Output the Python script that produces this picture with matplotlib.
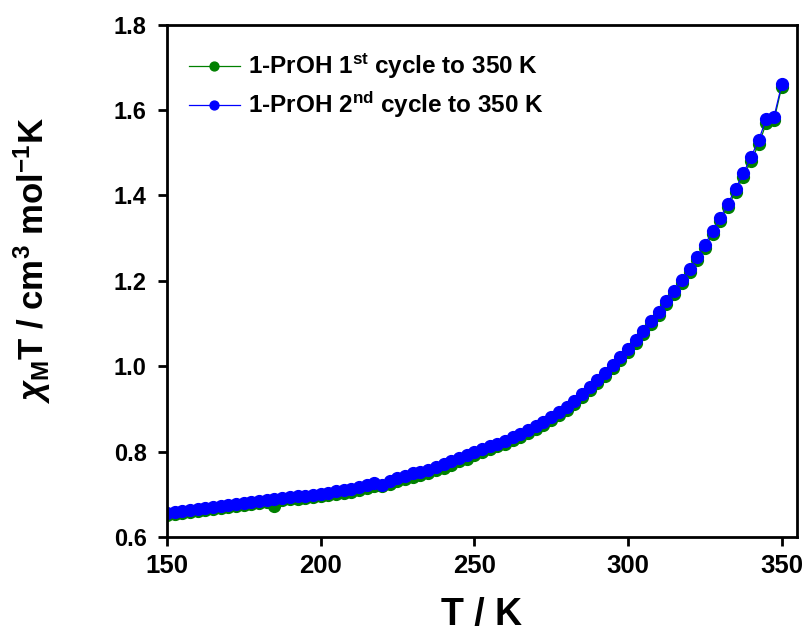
import numpy as np
import matplotlib
matplotlib.use('Agg')
import matplotlib.pyplot as plt

plt.rcParams['font.family'] = ['Liberation Sans', 'DejaVu Sans']
plt.rcParams['font.weight'] = 'bold'
plt.rcParams['mathtext.fontset'] = 'custom'
plt.rcParams['mathtext.rm'] = 'Liberation Sans:bold'
plt.rcParams['mathtext.it'] = 'Liberation Sans:bold:italic'
plt.rcParams['mathtext.bf'] = 'Liberation Sans:bold'

# temperature (K)
T = [150, 152.5, 155, 157.5, 160, 162.5, 165, 167.5, 170, 172.5,
     175, 177.5, 180, 182.5, 185, 187.5, 190, 192.5, 195, 197.5,
     200, 202.5, 205, 207.5, 210, 212.5, 215, 217.5, 220, 222.5,
     225, 227.5, 230, 232.5, 235, 237.5, 240, 242.5, 245, 247.5,
     250, 252.5, 255, 257.5, 260, 262.5, 265, 267.5, 270, 272.5,
     275, 277.5, 280, 282.5, 285, 287.5, 290, 292.5, 295, 297.5,
     300, 302.5, 305, 307.5, 310, 312.5, 315, 317.5, 320, 322.5,
     325, 327.5, 330, 332.5, 335, 337.5, 340, 342.5, 345, 347.5, 350]

# 2nd cycle (blue)
chiT_2 = [0.656, 0.659, 0.662, 0.664, 0.666, 0.668, 0.671, 0.673, 0.675, 0.677,
          0.679, 0.682, 0.684, 0.686, 0.689, 0.691, 0.693, 0.695, 0.697, 0.699,
          0.701, 0.704, 0.707, 0.709, 0.712, 0.716, 0.721, 0.727, 0.722, 0.732,
          0.738, 0.743, 0.750, 0.753, 0.758, 0.765, 0.770, 0.777, 0.786, 0.791,
          0.800, 0.806, 0.812, 0.819, 0.826, 0.834, 0.842, 0.851, 0.860, 0.869,
          0.880, 0.892, 0.905, 0.919, 0.934, 0.951, 0.968, 0.985, 1.002, 1.022,
          1.041, 1.062, 1.083, 1.105, 1.128, 1.152, 1.176, 1.202, 1.228, 1.256,
          1.285, 1.316, 1.348, 1.381, 1.416, 1.452, 1.490, 1.530, 1.580, 1.585, 1.660]

# 1st cycle (green)
chiT_1 = [0.652, 0.655, 0.657, 0.659, 0.661, 0.663, 0.666, 0.668, 0.670, 0.672,
          0.674, 0.677, 0.679, 0.681, 0.672, 0.686, 0.688, 0.690, 0.692, 0.694,
          0.696, 0.699, 0.701, 0.703, 0.706, 0.710, 0.714, 0.719, 0.720, 0.725,
          0.731, 0.735, 0.741, 0.745, 0.751, 0.757, 0.762, 0.769, 0.777, 0.783,
          0.792, 0.798, 0.805, 0.812, 0.819, 0.827, 0.835, 0.844, 0.853, 0.862,
          0.873, 0.885, 0.898, 0.912, 0.927, 0.944, 0.961, 0.978, 0.995, 1.015,
          1.034, 1.055, 1.076, 1.098, 1.121, 1.145, 1.169, 1.195, 1.221, 1.249,
          1.278, 1.309, 1.341, 1.374, 1.409, 1.444, 1.481, 1.520, 1.570, 1.577, 1.655]

fig = plt.figure(figsize=(8.06, 6.34), dpi=100)
ax = fig.add_axes([0.207, 0.153, 0.782, 0.808])

ax.plot(T, chiT_1, '-o', color='green', lw=0.9, ms=8.5, mec='green',
        label=r'1-PrOH 1$^{\mathrm{st}}$ cycle to 350 K')
ax.plot(T, chiT_2, '-o', color='blue', lw=0.9, ms=8.5, mec='blue',
        label=r'1-PrOH 2$^{\mathrm{nd}}$ cycle to 350 K')

ax.set_xlim(150, 355)
ax.set_ylim(0.6, 1.8)
ax.set_xticks([150, 200, 250, 300, 350])
ax.set_yticks(np.arange(0.6, 1.81, 0.2))
ax.yaxis.set_major_formatter(matplotlib.ticker.FormatStrFormatter('%.1f'))

for s in ax.spines.values():
    s.set_linewidth(2)
ax.tick_params(direction='out', length=6.5, width=2)
ax.tick_params(axis='x', labelsize=18.5, pad=6)
ax.tick_params(axis='y', labelsize=17, pad=8)

ax.set_xlabel('T / K', fontsize=27, fontweight='bold')
ax.set_ylabel(r'$\chi_{\mathrm{M}}$T / cm$^3$ mol$^{-1}$K', fontsize=25,
              fontweight='bold')
ax.xaxis.set_label_coords(0.5, -0.117)
ax.yaxis.set_label_coords(-0.181, 0.54)

leg = ax.legend(loc='upper left', bbox_to_anchor=(0.0, 0.99), frameon=False,
                fontsize=17.5, markerscale=0.75, handlelength=2.1,
                labelspacing=0.35, handletextpad=0.35)
for t in leg.get_texts():
    t.set_fontweight('bold')

fig.savefig('out.png', dpi=100)
